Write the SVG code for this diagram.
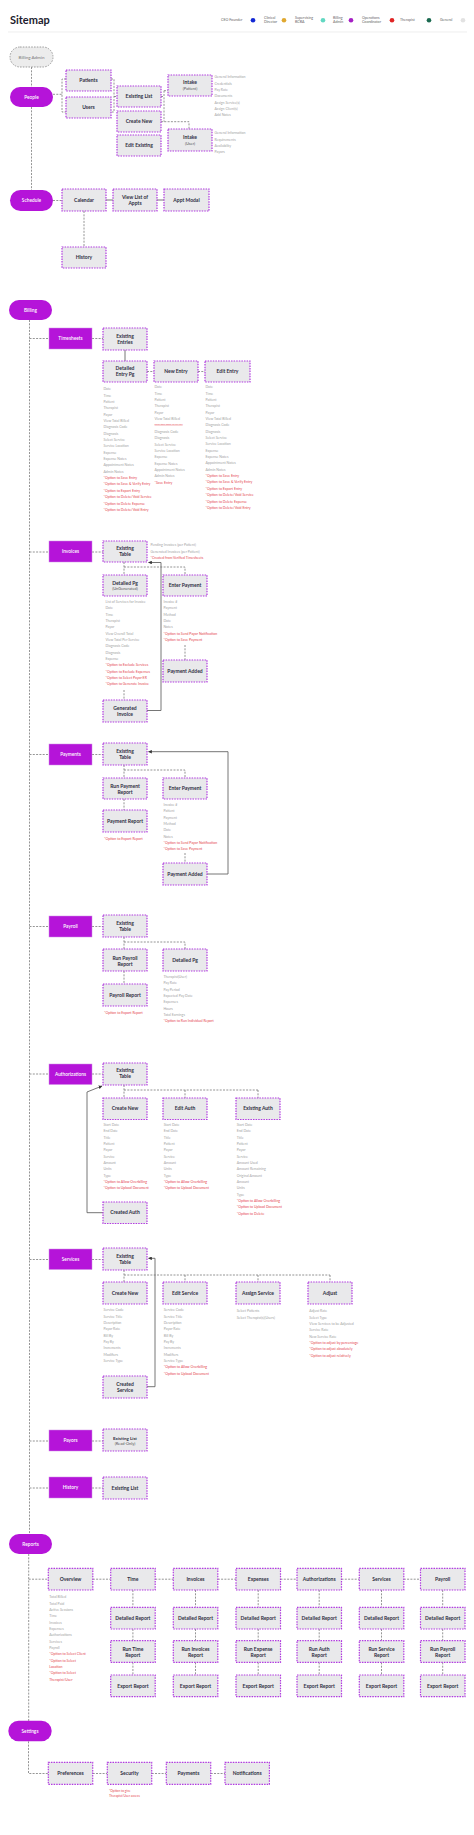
<svg xmlns="http://www.w3.org/2000/svg" width="474" height="1835" viewBox="0 0 474 1835">
<defs>
<marker id="ar" viewBox="0 0 6 6" refX="5.5" refY="3" markerWidth="4" markerHeight="4" orient="auto"><path d="M0,0 L6,3 L0,6 z" fill="#333"/></marker>
<style>
.box{fill:#e9e9eb;stroke:#b13ae0;stroke-width:1.2;stroke-dasharray:1.5 1.1}
.pill{fill:#b514d9}
.gp{fill:#ececec;stroke:#888;stroke-width:0.8;stroke-dasharray:1.6 1.2}
.sec{fill:#b514d9;stroke:#cf8ae6;stroke-width:0.5}
text{font-family:Lato,"Liberation Sans",sans-serif}
.l{font-size:5px;font-weight:700;fill:#2e2e42;text-anchor:middle}
.s{font-size:4px;font-weight:400;fill:#555;text-anchor:middle}
.w{font-size:4.8px;font-weight:600;fill:#fff;text-anchor:middle}
.li{font-size:3.5px;fill:#a3a3a3}
.r{fill:#e5464f}
.lg{font-size:3.6px;fill:#666}
.cd{fill:none;stroke:#7a7a7a;stroke-width:0.8;stroke-dasharray:2 1.3}
.cs{fill:none;stroke:#666;stroke-width:0.9}
</style>
</defs>
<rect width="474" height="1835" fill="#fff"/>
<g id="header">
<text x="10" y="23.5" style="font-size:11px;font-weight:700;fill:#1c1c2e">Sitemap</text>
<line x1="8" y1="32" x2="467" y2="32" stroke="#e2e2e2" stroke-width="0.6"/>
</g>
<g id="legend">
<text class="lg" x="221" y="21.3">CEO Founder</text><circle cx="253" cy="20.2" r="2.3" fill="#1228d4"/>
<text class="lg" x="264" y="18.5">Clinical</text><text class="lg" x="264" y="23.2">Director</text><circle cx="284" cy="20.2" r="2.3" fill="#e0a830"/>
<text class="lg" x="295" y="18.5">Supervising</text><text class="lg" x="295" y="23.2">BCBA</text><circle cx="323" cy="20.2" r="2.3" fill="#62d8c2"/>
<text class="lg" x="333" y="18.5">Billing</text><text class="lg" x="333" y="23.2">Admin</text><circle cx="351" cy="20.2" r="2.3" fill="#a51fc4"/>
<text class="lg" x="362" y="18.5">Operations</text><text class="lg" x="362" y="23.2">Coordinator</text><circle cx="392" cy="20.2" r="2.3" fill="#e02424"/>
<text class="lg" x="400" y="21.3">Therapist</text><circle cx="429" cy="20.2" r="2.3" fill="#1b6a50"/>
<text class="lg" x="440" y="21.3">General</text><circle cx="463" cy="20.2" r="2.3" fill="#e2e2e2"/>
</g>

<g id="connectors">
<path class="cd" d="M31.5,67 V87 M31.5,107 V190"/>
<path class="cd" d="M53,94.3 H62 M66,79 H62 V112 H66"/>
<path class="cd" d="M111,79 H114 V112 H111 M114,96.5 H117"/>
<path class="cd" d="M161,96.5 H164 M164,90.7 V121.7 M164,90.7 H168 M161,121.7 H189 V129"/>
<path class="cd" d="M53,200.5 H62 M84,211 V247"/>
<path class="cs" d="M106,200 H113 M157,200 H164"/>
<path class="cd" d="M29.5,320 V1534"/>
<path class="cd" d="M29.5,338.5 H49 M92,338.5 H103 M147,371.5 H154 M198,371.5 H205"/>
<path class="cs" d="M125,350 V361"/>
<path class="cd" d="M29.5,552 H49 M92,552 H103 M124,562 V575 M124,567 H185 V575 M185,645 V660 M124,690 V700"/>
<path class="cs" d="M147,710.5 H161 V562.5 H148.5" marker-end="url(#ar)"/>
<path class="cd" d="M29.5,754.5 H49 M92,754.5 H103 M124,765 V778 M124,770 H185 V778 M124,799 V810 M185,853 V863"/>
<path class="cs" d="M207,874 H228 V751.7 H148.5" marker-end="url(#ar)"/>
<path class="cd" d="M29.5,926.5 H49 M92,926.5 H103 M124,937 V949 M124,942 H185 V949 M124,971 V984"/>
<path class="cd" d="M29.5,1074 H49 M92,1074 H103 M124,1085 V1098 M124,1090 H258 M185,1090 V1098 M258,1090 V1098"/>
<path class="cs" d="M103,1212.7 H87 V1092 L102,1086" marker-end="url(#ar)"/>
<path class="cd" d="M29.5,1259.5 H49 M92,1259.5 H103 M124,1270 V1282 M124,1275 H330 M185,1275 V1282 M258,1275 V1282 M330,1275 V1282"/>
<path class="cs" d="M147,1386.7 H155 V1258.3 H148.5" marker-end="url(#ar)"/>
<path class="cd" d="M29.5,1441 H49 M92,1441 H103 M29.5,1488 H49 M92,1488 H103"/>
<path class="cd" d="M28.7,1554 V1721 M28.7,1579.2 H48.3 M92.8,1579.2 H110.7 M155.2,1579.2 H173.3 M217.8,1579.2 H236 M280.5,1579.2 H297 M341.5,1579.2 H359.3 M403.8,1579.2 H420.5"/>
<path class="cd" d="M132.9,1590 V1607.3 M132.9,1629 V1640.7 M132.9,1662.4 V1675 M195.5,1590 V1607.3 M195.5,1629 V1640.7 M195.5,1662.4 V1675 M258.2,1590 V1607.3 M258.2,1629 V1640.7 M258.2,1662.4 V1675 M319.2,1590 V1607.3 M319.2,1629 V1640.7 M319.2,1662.4 V1675 M381.5,1590 V1607.3 M381.5,1629 V1640.7 M381.5,1662.4 V1675 M442.7,1590 V1607.3 M442.7,1629 V1640.7 M442.7,1662.4 V1675"/>
<path class="cd" d="M28.5,1741.3 V1773.5 H48.3 M92.7,1773.5 H107.3 M151.7,1773.5 H166.3 M210.7,1773.5 H225"/>
</g>

<!-- People -->
<g id="billing-admin"><rect class="gp" x="10" y="47" width="43" height="20" rx="10"/><text x="31.5" y="58.6" style="font-size:4.5px;fill:#777;text-anchor:middle">Billing Admin</text></g>
<g id="people"><rect class="pill" x="10" y="87" width="43" height="20" rx="10"/><text class="w" x="31.5" y="98.7">People</text></g>
<g id="patients"><rect class="box" x="66" y="70" width="45" height="21"/><text class="l" x="88.5" y="82.2">Patients</text></g>
<g id="users"><rect class="box" x="66" y="97" width="45" height="21"/><text class="l" x="88.5" y="109.2">Users</text></g>
<g id="existing-list"><rect class="box" x="117" y="86" width="44" height="21"/><text class="l" x="139" y="98.2">Existing List</text></g>
<g id="create-new"><rect class="box" x="117" y="111" width="44" height="21"/><text class="l" x="139" y="123.2">Create New</text></g>
<g id="edit-existing"><rect class="box" x="117" y="135" width="44" height="21"/><text class="l" x="139" y="147.2">Edit Existing</text></g>
<g id="intake-patient"><rect class="box" x="168" y="75" width="44" height="21"/><text class="l" x="190" y="84.4">Intake</text><text class="s" x="190" y="90">(Patient)</text>
<text class="li" x="214.5" y="78.2"><tspan x="214.5" dy="0">General Information</tspan><tspan x="214.5" dy="6.35">Credentials</tspan><tspan x="214.5" dy="6.35">Pay Rate</tspan><tspan x="214.5" dy="6.35">Documents</tspan><tspan x="214.5" dy="6.35">Assign Service(s)</tspan><tspan x="214.5" dy="6.35">Assign Client(s)</tspan><tspan x="214.5" dy="6.35">Add Notes</tspan></text></g>
<g id="intake-user"><rect class="box" x="168" y="129" width="44" height="22"/><text class="l" x="190" y="139.4">Intake</text><text class="s" x="190" y="145">(User)</text>
<text class="li" x="214.5" y="134.2"><tspan x="214.5" dy="0">General Information</tspan><tspan x="214.5" dy="6.35">Requirements</tspan><tspan x="214.5" dy="6.35">Availability</tspan><tspan x="214.5" dy="6.35">Payors</tspan></text></g>

<!-- Schedule -->
<g id="schedule"><rect class="pill" x="10" y="190" width="43" height="21" rx="10.5"/><text class="w" x="31.5" y="202.2">Schedule</text></g>
<g id="calendar"><rect class="box" x="62" y="189" width="44" height="22"/><text class="l" x="84" y="201.7">Calendar</text></g>
<g id="view-list-appts"><rect class="box" x="113" y="189" width="44" height="22"/><text class="l" x="135" y="198.7">View List of</text><text class="l" x="135" y="205">Appts</text></g>
<g id="appt-modal"><rect class="box" x="164" y="189" width="45" height="22"/><text class="l" x="186.5" y="201.7">Appt Modal</text></g>
<g id="sched-history"><rect class="box" x="62" y="247" width="44" height="21"/><text class="l" x="84" y="259.2">History</text></g>

<!-- Billing -->
<g id="billing"><rect class="pill" x="9" y="300" width="43" height="20" rx="10"/><text class="w" x="30.5" y="311.7">Billing</text></g>

<g id="timesheets"><rect class="sec" x="49" y="328" width="43" height="21"/><text class="w" x="70.5" y="340.2">Timesheets</text></g>
<g id="existing-entries"><rect class="box" x="103" y="328" width="44" height="22"/><text class="l" x="125" y="337.7">Existing</text><text class="l" x="125" y="344">Entries</text></g>
<g id="detailed-entry"><rect class="box" x="103" y="361" width="44" height="21"/><text class="l" x="125" y="370">Detailed</text><text class="l" x="125" y="376">Entry Pg</text>
<text class="li" x="103.5" y="390.2"><tspan x="103.5" dy="0">Date</tspan><tspan x="103.5" dy="6.35">Time</tspan><tspan x="103.5" dy="6.35">Patient</tspan><tspan x="103.5" dy="6.35">Therapist</tspan><tspan x="103.5" dy="6.35">Payor</tspan><tspan x="103.5" dy="6.35">View Total Billed</tspan><tspan x="103.5" dy="6.35">Diagnosis Code</tspan><tspan x="103.5" dy="6.35">Diagnosis</tspan><tspan x="103.5" dy="6.35">Select Service</tspan><tspan x="103.5" dy="6.35">Service Location</tspan><tspan x="103.5" dy="6.35">Expense</tspan><tspan x="103.5" dy="6.35">Expense Notes</tspan><tspan x="103.5" dy="6.35">Appointment Notes</tspan><tspan x="103.5" dy="6.35">Admin Notes</tspan><tspan class="r" x="103.5" dy="6.35">*Option to Save Entry</tspan><tspan class="r" x="103.5" dy="6.35">*Option to Save &amp; Verify Entry</tspan><tspan class="r" x="103.5" dy="6.35">*Option to Export Entry</tspan><tspan class="r" x="103.5" dy="6.35">*Option to Delete/Void Service</tspan><tspan class="r" x="103.5" dy="6.35">*Option to Delete Expense</tspan><tspan class="r" x="103.5" dy="6.35">*Option to Delete/Void Entry</tspan></text></g>
<g id="new-entry"><rect class="box" x="154" y="361" width="44" height="21"/><text class="l" x="176" y="373.2">New Entry</text>
<text class="li" x="154.5" y="388.2"><tspan x="154.5" dy="0">Date</tspan><tspan x="154.5" dy="6.35">Time</tspan><tspan x="154.5" dy="6.35">Patient</tspan><tspan x="154.5" dy="6.35">Therapist</tspan><tspan x="154.5" dy="6.35">Payor</tspan><tspan x="154.5" dy="6.35">View Total Billed</tspan></text>
<text class="r" x="154.5" y="424.7" style="font-size:2.3px;text-decoration:underline">Calculated based on Service</text>
<text class="li" x="154.5" y="432.9"><tspan x="154.5" dy="0">Diagnosis Code</tspan><tspan x="154.5" dy="6.35">Diagnosis</tspan><tspan x="154.5" dy="6.35">Select Service</tspan><tspan x="154.5" dy="6.35">Service Location</tspan><tspan x="154.5" dy="6.35">Expense</tspan><tspan x="154.5" dy="6.35">Expense Notes</tspan><tspan x="154.5" dy="6.35">Appointment Notes</tspan><tspan x="154.5" dy="6.35">Admin Notes</tspan><tspan class="r" x="154.5" dy="6.35">*Save Entry</tspan></text></g>
<g id="edit-entry"><rect class="box" x="205" y="361" width="45" height="21"/><text class="l" x="227.5" y="373.2">Edit Entry</text>
<text class="li" x="205.5" y="388.2"><tspan x="205.5" dy="0">Date</tspan><tspan x="205.5" dy="6.35">Time</tspan><tspan x="205.5" dy="6.35">Patient</tspan><tspan x="205.5" dy="6.35">Therapist</tspan><tspan x="205.5" dy="6.35">Payor</tspan><tspan x="205.5" dy="6.35">View Total Billed</tspan><tspan x="205.5" dy="6.35">Diagnosis Code</tspan><tspan x="205.5" dy="6.35">Diagnosis</tspan><tspan x="205.5" dy="6.35">Select Service</tspan><tspan x="205.5" dy="6.35">Service Location</tspan><tspan x="205.5" dy="6.35">Expense</tspan><tspan x="205.5" dy="6.35">Expense Notes</tspan><tspan x="205.5" dy="6.35">Appointment Notes</tspan><tspan x="205.5" dy="6.35">Admin Notes</tspan><tspan class="r" x="205.5" dy="6.35">*Option to Save Entry</tspan><tspan class="r" x="205.5" dy="6.35">*Option to Save &amp; Verify Entry</tspan><tspan class="r" x="205.5" dy="6.35">*Option to Export Entry</tspan><tspan class="r" x="205.5" dy="6.35">*Option to Delete/Void Service</tspan><tspan class="r" x="205.5" dy="6.35">*Option to Delete Expense</tspan><tspan class="r" x="205.5" dy="6.35">*Option to Delete/Void Entry</tspan></text></g>

<!-- Invoices -->
<g id="invoices"><rect class="sec" x="49" y="541" width="43" height="21"/><text class="w" x="70.5" y="553.2">Invoices</text></g>
<g id="inv-existing-table"><rect class="box" x="103" y="541" width="44" height="21"/><text class="l" x="125" y="550">Existing</text><text class="l" x="125" y="556">Table</text>
<text class="li" x="150.5" y="546.2"><tspan x="150.5" dy="0">Pending Invoices (per Patient)</tspan><tspan x="150.5" dy="6.3">Generated Invoices (per Patient)</tspan><tspan class="r" x="150.5" dy="6.3">*Created from Verified Timesheets</tspan></text></g>
<g id="inv-detailed-pg"><rect class="box" x="103" y="575" width="44" height="21"/><text class="l" x="125" y="585">Detailed Pg</text><text class="s" x="125" y="590.4">(UnGenerated)</text>
<text class="li" x="105.5" y="602.9"><tspan x="105.5" dy="0">List of Services for Invoice</tspan><tspan x="105.5" dy="6.35">Date</tspan><tspan x="105.5" dy="6.35">Time</tspan><tspan x="105.5" dy="6.35">Therapist</tspan><tspan x="105.5" dy="6.35">Payor</tspan><tspan x="105.5" dy="6.35">View Overall Total</tspan><tspan x="105.5" dy="6.35">View Total Per Service</tspan><tspan x="105.5" dy="6.35">Diagnosis Code</tspan><tspan x="105.5" dy="6.35">Diagnosis</tspan><tspan x="105.5" dy="6.35">Expense</tspan><tspan class="r" x="105.5" dy="6.35">*Option to Exclude Services</tspan><tspan class="r" x="105.5" dy="6.35">*Option to Exclude Expenses</tspan><tspan class="r" x="105.5" dy="6.35">*Option to Select Payor ER</tspan><tspan class="r" x="105.5" dy="6.35">*Option to Generate Invoice</tspan></text></g>
<g id="inv-enter-payment"><rect class="box" x="163" y="575" width="44" height="21"/><text class="l" x="185" y="587.2">Enter Payment</text>
<text class="li" x="163.5" y="602.9"><tspan x="163.5" dy="0">Invoice #</tspan><tspan x="163.5" dy="6.35">Payment</tspan><tspan x="163.5" dy="6.35">Method</tspan><tspan x="163.5" dy="6.35">Date</tspan><tspan x="163.5" dy="6.35">Notes</tspan><tspan class="r" x="163.5" dy="6.35">*Option to Send Payor Notification</tspan><tspan class="r" x="163.5" dy="6.35">*Option to Save Payment</tspan></text></g>
<g id="inv-payment-added"><rect class="box" x="163" y="660" width="44" height="22"/><text class="l" x="185" y="672.7">Payment Added</text></g>
<g id="generated-invoice"><rect class="box" x="103" y="700" width="44" height="22"/><text class="l" x="125" y="710">Generated</text><text class="l" x="125" y="716">Invoice</text></g>

<!-- Payments -->
<g id="payments"><rect class="sec" x="49" y="744" width="43" height="21"/><text class="w" x="70.5" y="756.2">Payments</text></g>
<g id="pay-existing-table"><rect class="box" x="103" y="743" width="44" height="22"/><text class="l" x="125" y="752.7">Existing</text><text class="l" x="125" y="758.7">Table</text></g>
<g id="run-payment-report"><rect class="box" x="103" y="778" width="44" height="21"/><text class="l" x="125" y="787.7">Run Payment</text><text class="l" x="125" y="793.7">Report</text></g>
<g id="payment-report"><rect class="box" x="103" y="810" width="44" height="22"/><text class="l" x="125" y="822.7">Payment Report</text>
<text class="li r" x="104" y="840.2">*Option to Export Report</text></g>
<g id="pay-enter-payment"><rect class="box" x="163" y="778" width="44" height="21"/><text class="l" x="185" y="790.2">Enter Payment</text>
<text class="li" x="163.5" y="805.9"><tspan x="163.5" dy="0">Invoice #</tspan><tspan x="163.5" dy="6.35">Patient</tspan><tspan x="163.5" dy="6.35">Payment</tspan><tspan x="163.5" dy="6.35">Method</tspan><tspan x="163.5" dy="6.35">Date</tspan><tspan x="163.5" dy="6.35">Notes</tspan><tspan class="r" x="163.5" dy="6.35">*Option to Send Payor Notification</tspan><tspan class="r" x="163.5" dy="6.35">*Option to Save Payment</tspan></text></g>
<g id="pay-payment-added"><rect class="box" x="163" y="863" width="44" height="22"/><text class="l" x="185" y="875.7">Payment Added</text></g>

<!-- Payroll -->
<g id="payroll"><rect class="sec" x="49" y="916" width="43" height="21"/><text class="w" x="70.5" y="928.2">Payroll</text></g>
<g id="payroll-existing-table"><rect class="box" x="103" y="915" width="44" height="22"/><text class="l" x="125" y="925">Existing</text><text class="l" x="125" y="931">Table</text></g>
<g id="run-payroll-report"><rect class="box" x="103" y="949" width="44" height="22"/><text class="l" x="125" y="959.7">Run Payroll</text><text class="l" x="125" y="965.7">Report</text></g>
<g id="payroll-report"><rect class="box" x="103" y="984" width="44" height="22"/><text class="l" x="125" y="996.7">Payroll Report</text>
<text class="li r" x="104" y="1014.2">*Option to Export Report</text></g>
<g id="payroll-detailed-pg"><rect class="box" x="163" y="949" width="44" height="22"/><text class="l" x="185" y="961.7">Detailed Pg</text>
<text class="li" x="163.5" y="977.9"><tspan x="163.5" dy="0">Therapist(User)</tspan><tspan x="163.5" dy="6.35">Pay Rate</tspan><tspan x="163.5" dy="6.35">Pay Period</tspan><tspan x="163.5" dy="6.35">Expected Pay Date</tspan><tspan x="163.5" dy="6.35">Expenses</tspan><tspan x="163.5" dy="6.35">Hours</tspan><tspan x="163.5" dy="6.35">Total Earnings</tspan><tspan class="r" x="163.5" dy="6.35">*Option to Run Individual Report</tspan></text></g>

<!-- Authorizations -->
<g id="authorizations"><rect class="sec" x="49" y="1064" width="43" height="20.5"/><text class="w" x="70.5" y="1075.9">Authorizations</text></g>
<g id="auth-existing-table"><rect class="box" x="103" y="1063" width="44" height="22"/><text class="l" x="125" y="1072.4">Existing</text><text class="l" x="125" y="1078.4">Table</text></g>
<g id="auth-create-new"><rect class="box" x="103" y="1098" width="44" height="21.5"/><text class="l" x="125" y="1110.4">Create New</text>
<text class="li" x="103.5" y="1125.9"><tspan x="103.5" dy="0">Start Date</tspan><tspan x="103.5" dy="6.35">End Date</tspan><tspan x="103.5" dy="6.35">Title</tspan><tspan x="103.5" dy="6.35">Patient</tspan><tspan x="103.5" dy="6.35">Payor</tspan><tspan x="103.5" dy="6.35">Service</tspan><tspan x="103.5" dy="6.35">Amount</tspan><tspan x="103.5" dy="6.35">Units</tspan><tspan x="103.5" dy="6.35">Type</tspan><tspan class="r" x="103.5" dy="6.35">*Option to Allow Overbilling</tspan><tspan class="r" x="103.5" dy="6.35">*Option to Upload Document</tspan></text></g>
<g id="edit-auth"><rect class="box" x="163" y="1098" width="44" height="21.5"/><text class="l" x="185" y="1110.4">Edit Auth</text>
<text class="li" x="163.7" y="1125.9"><tspan x="163.7" dy="0">Start Date</tspan><tspan x="163.7" dy="6.35">End Date</tspan><tspan x="163.7" dy="6.35">Title</tspan><tspan x="163.7" dy="6.35">Patient</tspan><tspan x="163.7" dy="6.35">Payor</tspan><tspan x="163.7" dy="6.35">Service</tspan><tspan x="163.7" dy="6.35">Amount</tspan><tspan x="163.7" dy="6.35">Units</tspan><tspan x="163.7" dy="6.35">Type</tspan><tspan class="r" x="163.7" dy="6.35">*Option to Allow Overbilling</tspan><tspan class="r" x="163.7" dy="6.35">*Option to Upload Document</tspan></text></g>
<g id="existing-auth"><rect class="box" x="236" y="1098" width="44" height="21.5"/><text class="l" x="258" y="1110.4">Existing Auth</text>
<text class="li" x="236.7" y="1125.9"><tspan x="236.7" dy="0">Start Date</tspan><tspan x="236.7" dy="6.35">End Date</tspan><tspan x="236.7" dy="6.35">Title</tspan><tspan x="236.7" dy="6.35">Patient</tspan><tspan x="236.7" dy="6.35">Payor</tspan><tspan x="236.7" dy="6.35">Service</tspan><tspan x="236.7" dy="6.35">Amount Used</tspan><tspan x="236.7" dy="6.35">Amount Remaining</tspan><tspan x="236.7" dy="6.35">Original Amount</tspan><tspan x="236.7" dy="6.35">Amount</tspan><tspan x="236.7" dy="6.35">Units</tspan><tspan x="236.7" dy="6.35">Type</tspan><tspan class="r" x="236.7" dy="6.35">*Option to Allow Overbilling</tspan><tspan class="r" x="236.7" dy="6.35">*Option to Upload Document</tspan><tspan class="r" x="236.7" dy="6.35">*Option to Delete</tspan></text></g>
<g id="created-auth"><rect class="box" x="103" y="1202" width="44" height="21.5"/><text class="l" x="125" y="1214.4">Created Auth</text></g>

<!-- Services -->
<g id="services"><rect class="sec" x="49" y="1249" width="43" height="20.5"/><text class="w" x="70.5" y="1261">Services</text></g>
<g id="svc-existing-table"><rect class="box" x="103" y="1248" width="44" height="22"/><text class="l" x="125" y="1258">Existing</text><text class="l" x="125" y="1264">Table</text></g>
<g id="svc-create-new"><rect class="box" x="103" y="1282" width="44" height="22"/><text class="l" x="125" y="1294.7">Create New</text>
<text class="li" x="103.5" y="1311.2"><tspan x="103.5" dy="0">Service Code</tspan><tspan x="103.5" dy="6.35">Service Title</tspan><tspan x="103.5" dy="6.35">Description</tspan><tspan x="103.5" dy="6.35">Payor Rate</tspan><tspan x="103.5" dy="6.35">Bill By</tspan><tspan x="103.5" dy="6.35">Pay By</tspan><tspan x="103.5" dy="6.35">Increments</tspan><tspan x="103.5" dy="6.35">Modifiers</tspan><tspan x="103.5" dy="6.35">Service Type</tspan></text></g>
<g id="edit-service"><rect class="box" x="163" y="1282" width="44" height="22"/><text class="l" x="185" y="1294.7">Edit Service</text>
<text class="li" x="163.7" y="1311.2"><tspan x="163.7" dy="0">Service Code</tspan><tspan x="163.7" dy="6.35">Service Title</tspan><tspan x="163.7" dy="6.35">Description</tspan><tspan x="163.7" dy="6.35">Payor Rate</tspan><tspan x="163.7" dy="6.35">Bill By</tspan><tspan x="163.7" dy="6.35">Pay By</tspan><tspan x="163.7" dy="6.35">Increments</tspan><tspan x="163.7" dy="6.35">Modifiers</tspan><tspan x="163.7" dy="6.35">Service Type</tspan><tspan class="r" x="163.7" dy="6.35">*Option to Allow Overbilling</tspan><tspan class="r" x="163.7" dy="6.35">*Option to Upload Document</tspan></text></g>
<g id="assign-service"><rect class="box" x="236" y="1282" width="44" height="22"/><text class="l" x="258" y="1294.7">Assign Service</text>
<text class="li" x="236.7" y="1312.2"><tspan x="236.7" dy="0">Select Patients</tspan><tspan x="236.7" dy="6.35">Select Therapist(s)(Users)</tspan></text></g>
<g id="adjust"><rect class="box" x="308" y="1282" width="44" height="22"/><text class="l" x="330" y="1294.7">Adjust</text>
<text class="li" x="309.3" y="1312.2"><tspan x="309.3" dy="0">Adjust Rate</tspan><tspan x="309.3" dy="6.35">Select Type</tspan><tspan x="309.3" dy="6.35">View Services to be Adjusted</tspan><tspan x="309.3" dy="6.35">Service Rate</tspan><tspan x="309.3" dy="6.35">New Service Rate</tspan><tspan class="r" x="309.3" dy="6.35">*Option to adjust by percentage</tspan><tspan class="r" x="309.3" dy="6.35">*Option to adjust absolutely</tspan><tspan class="r" x="309.3" dy="6.35">*Option to adjust relatively</tspan></text></g>
<g id="created-service"><rect class="box" x="103" y="1376" width="44" height="22"/><text class="l" x="125" y="1385.7">Created</text><text class="l" x="125" y="1391.7">Service</text></g>

<!-- Payors / History -->
<g id="payors"><rect class="sec" x="49" y="1430" width="43" height="21"/><text class="w" x="70.5" y="1442.2">Payors</text></g>
<g id="payors-existing-list"><rect class="box" x="103" y="1429" width="44" height="22"/><text class="l" x="125" y="1439.7" style="font-size:4.5px">Existing List</text><text class="s" x="125" y="1445.1">(Read-Only)</text></g>
<g id="history"><rect class="sec" x="49" y="1477" width="43" height="21"/><text class="w" x="70.5" y="1489.2">History</text></g>
<g id="history-existing-list"><rect class="box" x="103" y="1477" width="44" height="22"/><text class="l" x="125" y="1489.7">Existing List</text></g>

<!-- Reports -->
<g id="reports"><rect class="pill" x="9" y="1534" width="43" height="20" rx="10"/><text class="w" x="30.5" y="1545.7">Reports</text></g>
<g id="overview"><rect class="box" x="48.3" y="1568.3" width="44.5" height="21.7"/><text class="l" x="70.5" y="1580.9">Overview</text>
<text class="li" x="49.3" y="1598.2"><tspan x="49.3" dy="0">Total Billed</tspan><tspan x="49.3" dy="6.35">Total Paid</tspan><tspan x="49.3" dy="6.35">Active Sessions</tspan><tspan x="49.3" dy="6.35">Time</tspan><tspan x="49.3" dy="6.35">Invoices</tspan><tspan x="49.3" dy="6.35">Expenses</tspan><tspan x="49.3" dy="6.35">Authorizations</tspan><tspan x="49.3" dy="6.35">Services</tspan><tspan x="49.3" dy="6.35">Payroll</tspan><tspan class="r" x="49.3" dy="6.35">*Option to Select Client</tspan><tspan class="r" x="49.3" dy="6.35">*Option to Select</tspan><tspan class="r" x="49.3" dy="6.35">Location</tspan><tspan class="r" x="49.3" dy="6.35">*Option to Select</tspan><tspan class="r" x="49.3" dy="6.35">Therapist/User</tspan></text></g>

<g id="rep-time"><rect class="box" x="110.7" y="1568.3" width="44.5" height="21.7"/><text class="l" x="132.9" y="1580.9">Time</text></g>
<g id="rep-invoices"><rect class="box" x="173.3" y="1568.3" width="44.5" height="21.7"/><text class="l" x="195.5" y="1580.9">Invoices</text></g>
<g id="rep-expenses"><rect class="box" x="236" y="1568.3" width="44.5" height="21.7"/><text class="l" x="258.2" y="1580.9">Expenses</text></g>
<g id="rep-authorizations"><rect class="box" x="297" y="1568.3" width="44.5" height="21.7"/><text class="l" x="319.2" y="1580.9">Authorizations</text></g>
<g id="rep-services"><rect class="box" x="359.3" y="1568.3" width="44.5" height="21.7"/><text class="l" x="381.5" y="1580.9">Services</text></g>
<g id="rep-payroll"><rect class="box" x="420.5" y="1568.3" width="44.5" height="21.7"/><text class="l" x="442.7" y="1580.9">Payroll</text></g>

<g id="time-detailed"><rect class="box" x="110.7" y="1607.3" width="44.5" height="21.7"/><text class="l" x="132.9" y="1619.9">Detailed Report</text></g>
<g id="invoices-detailed"><rect class="box" x="173.3" y="1607.3" width="44.5" height="21.7"/><text class="l" x="195.5" y="1619.9">Detailed Report</text></g>
<g id="expenses-detailed"><rect class="box" x="236" y="1607.3" width="44.5" height="21.7"/><text class="l" x="258.2" y="1619.9">Detailed Report</text></g>
<g id="auth-detailed"><rect class="box" x="297" y="1607.3" width="44.5" height="21.7"/><text class="l" x="319.2" y="1619.9">Detailed Report</text></g>
<g id="services-detailed"><rect class="box" x="359.3" y="1607.3" width="44.5" height="21.7"/><text class="l" x="381.5" y="1619.9">Detailed Report</text></g>
<g id="payroll-detailed"><rect class="box" x="420.5" y="1607.3" width="44.5" height="21.7"/><text class="l" x="442.7" y="1619.9">Detailed Report</text></g>

<g id="run-time-report"><rect class="box" x="110.7" y="1640.7" width="44.5" height="21.7"/><text class="l" x="132.9" y="1651">Run Time</text><text class="l" x="132.9" y="1657">Report</text></g>
<g id="run-invoices-report"><rect class="box" x="173.3" y="1640.7" width="44.5" height="21.7"/><text class="l" x="195.5" y="1651">Run Invoices</text><text class="l" x="195.5" y="1657">Report</text></g>
<g id="run-expense-report"><rect class="box" x="236" y="1640.7" width="44.5" height="21.7"/><text class="l" x="258.2" y="1651">Run Expense</text><text class="l" x="258.2" y="1657">Report</text></g>
<g id="run-auth-report"><rect class="box" x="297" y="1640.7" width="44.5" height="21.7"/><text class="l" x="319.2" y="1651">Run Auth</text><text class="l" x="319.2" y="1657">Report</text></g>
<g id="run-service-report"><rect class="box" x="359.3" y="1640.7" width="44.5" height="21.7"/><text class="l" x="381.5" y="1651">Run Service</text><text class="l" x="381.5" y="1657">Report</text></g>
<g id="run-payroll-report-2"><rect class="box" x="420.5" y="1640.7" width="44.5" height="21.7"/><text class="l" x="442.7" y="1651">Run Payroll</text><text class="l" x="442.7" y="1657">Report</text></g>

<g id="time-export"><rect class="box" x="110.7" y="1675" width="44.5" height="21.7"/><text class="l" x="132.9" y="1687.6">Export Report</text></g>
<g id="invoices-export"><rect class="box" x="173.3" y="1675" width="44.5" height="21.7"/><text class="l" x="195.5" y="1687.6">Export Report</text></g>
<g id="expenses-export"><rect class="box" x="236" y="1675" width="44.5" height="21.7"/><text class="l" x="258.2" y="1687.6">Export Report</text></g>
<g id="auth-export"><rect class="box" x="297" y="1675" width="44.5" height="21.7"/><text class="l" x="319.2" y="1687.6">Export Report</text></g>
<g id="services-export"><rect class="box" x="359.3" y="1675" width="44.5" height="21.7"/><text class="l" x="381.5" y="1687.6">Export Report</text></g>
<g id="payroll-export"><rect class="box" x="420.5" y="1675" width="44.5" height="21.7"/><text class="l" x="442.7" y="1687.6">Export Report</text></g>

<!-- Settings -->
<g id="settings"><rect class="pill" x="8.3" y="1720.7" width="43.4" height="20.6" rx="10.3"/><text class="w" x="30" y="1732.7">Settings</text></g>
<g id="preferences"><rect class="box" x="48.3" y="1762.3" width="44.4" height="22"/><text class="l" x="70.5" y="1775">Preferences</text></g>
<g id="security"><rect class="box" x="107.3" y="1762.3" width="44.4" height="22"/><text class="l" x="129.5" y="1775">Security</text>
<text class="r" x="109" y="1792.3" style="font-size:3.2px"><tspan x="109" dy="0">*Option to give</tspan><tspan x="109" dy="4.3">Therapist/User access</tspan></text></g>
<g id="settings-payments"><rect class="box" x="166.3" y="1762.3" width="44.4" height="22"/><text class="l" x="188.5" y="1775">Payments</text></g>
<g id="notifications"><rect class="box" x="225" y="1762.3" width="44.4" height="22"/><text class="l" x="247.2" y="1775">Notifications</text></g>
</svg>
